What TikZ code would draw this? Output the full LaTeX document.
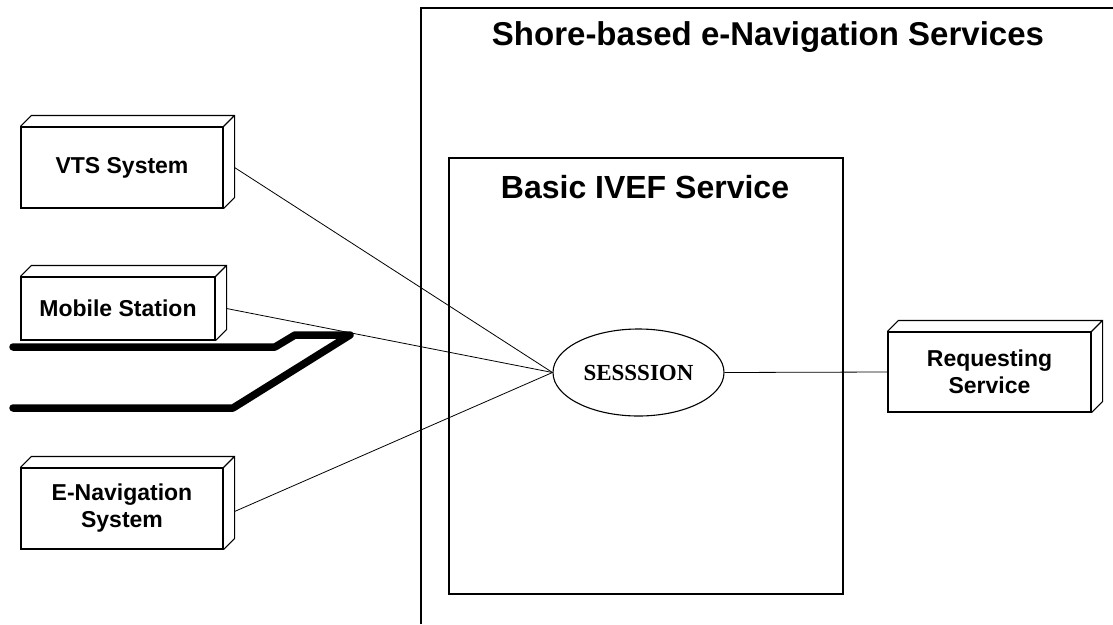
\documentclass[tikz,border=0pt]{standalone}
\usepackage{fontspec}
\setmainfont{Liberation Sans}
\newfontfamily\serifbold{Liberation Serif}
\usepackage{tikz}
\usetikzlibrary{shapes,positioning,calc}

\begin{document}
\begin{tikzpicture}[x=1pt, y=-1pt,
    device/.style={draw, line width=1.1pt, fill=white, inner sep=0pt, align=center,
        minimum width=202pt, minimum height=81pt,
        font=\bfseries\fontsize{23}{27}\selectfont},
    depth/.style={draw, line width=1.1pt},
    link/.style={draw, line width=0.8pt},
    title/.style={anchor=base, font=\bfseries\fontsize{32}{36}\selectfont}]
    \useasboundingbox (0,0) rectangle (1113,624);

    % Service frames
    \draw[line width=1.3pt] (421,624) -- (421,8) -- (1113,8);
    \node[title, font=\bfseries\fontsize{33}{38}\selectfont] (shore) at (768,45) {Shore-based e-Navigation Services};
    \draw[line width=1.3pt] (449,158) rectangle (843,594);
    \node[title] (ivef) at (645,198) {Basic IVEF Service};

    % Session
    \node[draw, ellipse, line width=1.1pt, minimum width=171pt, minimum height=87pt, inner sep=0pt,
        font=\serifbold\bfseries\fontsize{23}{26}\selectfont] (session) at (638.5,372.5) {SESSSION};

    % Track (thick line)
    \draw[line width=7.5pt, line cap=round, line join=round]
        (13,347) -- (275,347) -- (295,335) -- (350,335) -- (233,408) -- (13,408);

    % Devices
    \node[device] (vts) at (122,167.5) {VTS System};
    \node[device, minimum width=194pt, minimum height=63pt] (mobile) at (118,308.5) {Mobile Station};
    \node[device] (enav) at (122,508.5) {E-Navigation\\System};
    \node[device, minimum width=203pt, minimum height=80pt] (request) at (989.5,372) {Requesting\\Service};

    % Depth of the boxes
    \foreach \n in {vts,mobile,enav,request}
        \draw[depth] (\n.north west) -- ++(11,-11) -- ([shift={(11,-11)}]\n.north east)
            -- ([shift={(11,-11)}]\n.south east) -- (\n.south east)
            (\n.north east) -- ++(11,-11);

    % Connections to the session
    \draw[link] ([xshift=11pt]vts.east) -- (session.west);
    \draw[link] ([xshift=11pt]mobile.east) -- (session.west);
    \draw[link] ([xshift=11pt,yshift=-3pt]enav.east) -- (session.west);
    \draw[link] (session.east) -- (request.west);
\end{tikzpicture}
\end{document}
